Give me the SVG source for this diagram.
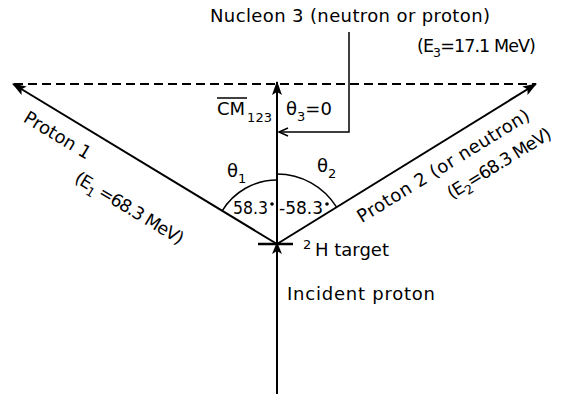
<svg xmlns="http://www.w3.org/2000/svg" width="577" height="394" viewBox="0 0 577 394">
<style>
text{font-family:"DejaVu Sans","Liberation Sans",sans-serif;font-size:18px;fill:#000}
.sub{font-size:13px}
.ln{stroke:#000;stroke-width:2;fill:none}
.thin{stroke:#000;stroke-width:1.5;fill:none}
.dash{stroke:#000;stroke-width:1.8;fill:none;stroke-dasharray:9 5}
.deg{font-size:17px}
.en{font-size:17.5px;letter-spacing:-0.9px}
.en .sub{font-size:12.5px}
</style>
<defs>
<marker id="ah" viewBox="0 0 14 10" refX="13" refY="5" markerWidth="14" markerHeight="10" markerUnits="userSpaceOnUse" orient="auto">
<path d="M0,0 L14,5 L0,10 L3,5 Z" fill="#000"/>
</marker>
</defs>
<rect width="577" height="394" fill="#fff"/>
<g id="connectors">
<line class="dash" x1="14" y1="84" x2="536" y2="84"/>
<line class="ln" x1="277" y1="394" x2="277" y2="82" marker-end="url(#ah)"/>
<line class="ln" x1="277" y1="244" x2="13" y2="84" marker-end="url(#ah)"/>
<line class="ln" x1="277" y1="244" x2="536" y2="84" marker-end="url(#ah)"/>
<polyline class="thin" points="349,32 349,132 279,132"/>
<polyline class="thin" points="288,128 279,132 288,136"/>
<path class="thin" d="M222.2,210.9 A64,64 0 0 1 277,180"/>
<path class="thin" d="M277,174 A70,70 0 0 1 336.6,207.2"/>
</g>
<g id="target">
<line stroke="#000" stroke-width="2.5" x1="258" y1="244" x2="293" y2="244"/>
<path d="M277,242 L282,254 L277,251 L272,254 Z" fill="#000"/>
<text class="sub" x="303" y="249">2</text>
<text x="315" y="256">H target</text>
</g>
<g id="incident">
<text x="287" y="300" textLength="148" lengthAdjust="spacing">Incident proton</text>
</g>
<g id="nucleon3">
<text x="210" y="22" textLength="280" lengthAdjust="spacing">Nucleon 3 (neutron or proton)</text>
<text class="en" x="417" y="52">(E<tspan class="sub" dy="5">3</tspan><tspan dy="-5">=17.1 MeV)</tspan></text>
</g>
<g id="cm">
<text x="217" y="115">CM<tspan class="sub" dx="2" dy="7">123</tspan></text>
<line stroke="#000" stroke-width="1.5" x1="217" y1="98" x2="247" y2="98"/>
<text x="286" y="115">θ<tspan class="sub" dy="6">3</tspan><tspan dy="-6">=0</tspan></text>
</g>
<g id="angles">
<text x="227" y="177">θ<tspan class="sub" dy="6">1</tspan></text>
<text x="317" y="172">θ<tspan class="sub" dy="6">2</tspan></text>
<text class="deg" x="233" y="214" textLength="35" lengthAdjust="spacingAndGlyphs">58.3</text>
<circle cx="272" cy="204" r="1.8"/>
<text class="deg" x="279" y="214">-58.3</text>
<circle cx="327" cy="204" r="1.8"/>
</g>
<g id="proton1" transform="translate(13,84) rotate(31.1)">
<text x="27" y="27">Proton 1</text>
<text class="en" x="102" y="52">(E<tspan class="sub" dy="5">1</tspan><tspan dy="-5"> =68.3 MeV)</tspan></text>
</g>
<g id="proton2" transform="translate(277,244) rotate(-31.7)">
<text x="83" y="27" textLength="199" lengthAdjust="spacing">Proton 2 (or neutron)</text>
<text class="en" x="172" y="54">(E<tspan class="sub" dy="5">2</tspan><tspan dy="-5">=68.3 MeV)</tspan></text>
</g>
</svg>
